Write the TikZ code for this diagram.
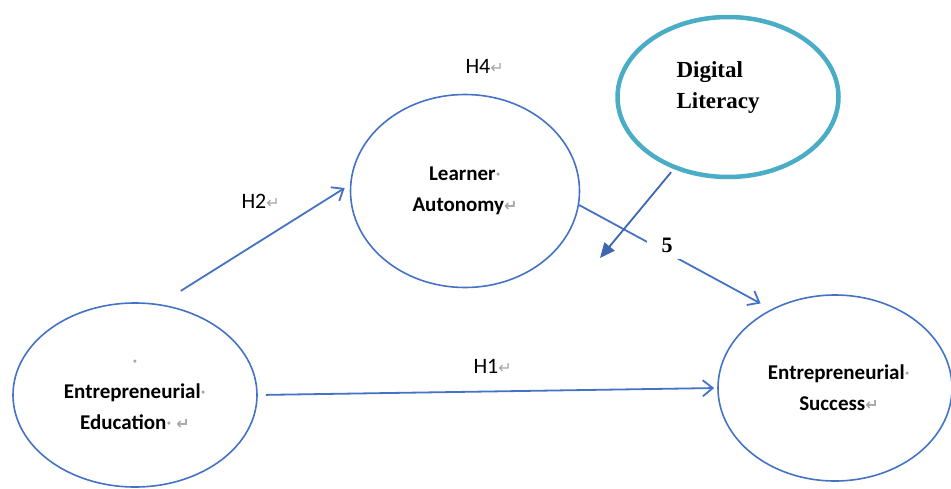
\documentclass[tikz,border=0pt]{standalone}
\usepackage{fontspec}
\setsansfont{Carlito}
\newfontfamily\serifbold{Liberation Serif}
\newfontfamily\markfont{DejaVu Sans}
\usetikzlibrary{shapes.geometric,arrows.meta}
\definecolor{lineblue}{HTML}{4472C4}
\definecolor{ringteal}{HTML}{4BACC6}
\definecolor{markgray}{HTML}{A6A6A6}
\newcommand{\ret}{{\markfont\fontsize{16}{16}\selectfont\color{markgray}↵}}
\newcommand{\spc}{{\mdseries\color{markgray}·}}
\tikzset{>={Straight Barb[length=10pt,width=16pt]}}
\tikzset{
  oval/.style={ellipse,draw=lineblue,line width=1.6pt,inner sep=0pt,align=center,
    font=\sffamily\bfseries\fontsize{21}{31}\selectfont},
  link/.style={draw=lineblue,line width=1.8pt,->},
  modlink/.style={draw=lineblue!90!black,line width=1.8pt,-{Triangle[length=15pt,width=13pt]}},
  hyp/.style={anchor=base west,font=\sffamily\fontsize{22}{22}\selectfont}
}

\begin{document}
\begin{tikzpicture}[x=1pt,y=-1pt]
  \useasboundingbox (0,0) rectangle (951,488);
  % constructs
  \node[oval,minimum width=244pt,minimum height=184pt] (EE) at (135,395)
    {\spc\\Entrepreneurial\spc\\Education\spc\ \ret};
  \node[oval,minimum width=229pt,minimum height=193pt] (LA) at (465,191)
    {\raisebox{-4pt}{Learner\spc}\\\raisebox{-4pt}{Autonomy\ret}};
  \node[oval,minimum width=234pt,minimum height=186pt] (ES) at (835,388)
    {\hspace{8pt}Entrepreneurial\spc\\\hspace{8pt}Success\ret};
  \node[ellipse,draw=ringteal,line width=4.5pt,minimum width=221pt,minimum height=160pt] (DL) at (728,97) {};
  \node[anchor=base west,align=left,font=\serifbold\bfseries\fontsize{23}{31}\selectfont] (dltxt) at (673,108)
    {Digital\\Literacy};
  % paths
  \draw[link] ([yshift=18pt]EE.62) -- ([shift={(-5pt,3pt)}]LA.west);
  \draw[link,shorten <=8pt,shorten >=3pt] (EE.east) -- (ES.west);
  \draw[link,shorten >=12pt] (LA.-7) -- (ES.129);
  % moderation
  \coordinate (mod) at (600,258);
  \draw[modlink,shorten <=4pt] (DL.233) -- (mod);
  \node[fill=white,minimum width=40pt,minimum height=28pt,inner sep=0pt,
    font=\serifbold\bfseries\fontsize{22}{22}\selectfont] (five) at (667,245) {5};
  % hypotheses
  \node[hyp] (h4) at (462,73) {H4\ret};
  \node[hyp] (h2) at (238,208) {H2\ret};
  \node[hyp] (h1) at (470,373) {H1\ret};
\end{tikzpicture}
\end{document}
